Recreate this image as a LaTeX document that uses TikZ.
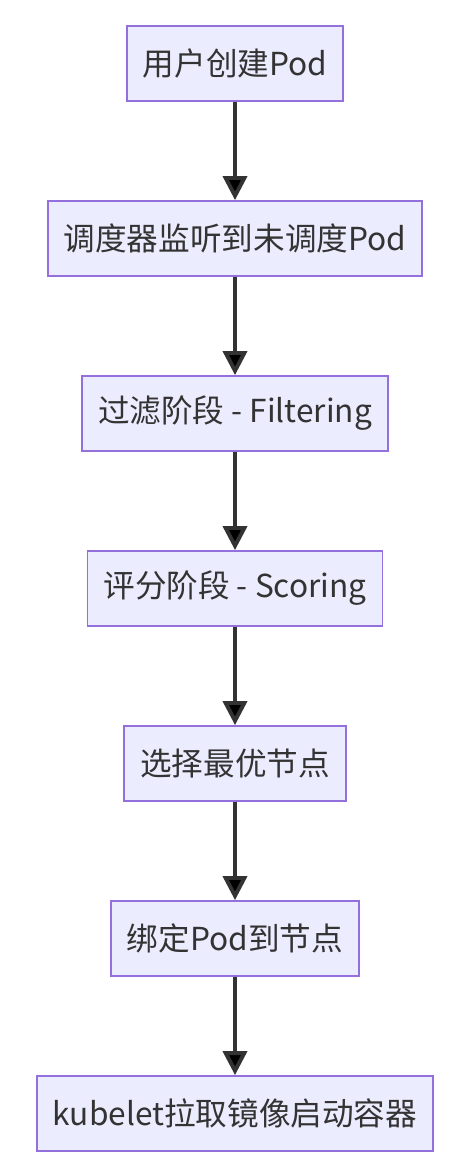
\documentclass[tikz,border=0pt]{standalone}
\usepackage{fontspec}
\setmainfont{Noto Sans CJK SC}
\usetikzlibrary{arrows.meta}
\definecolor{boxfill}{HTML}{ECECFF}
\definecolor{boxline}{HTML}{9370DB}
\definecolor{arrowc}{HTML}{333333}
\tikzset{
    >={Triangle[length=4.8mm, width=4.8mm]},
    stage/.style={rectangle, draw=boxline, fill=boxfill, line width=1pt, align=center,
        minimum height=1.5cm, inner xsep=0.32cm, text=arrowc, font=\fontsize{18pt}{21pt}\selectfont},
    flowline/.style={->, draw=arrowc, line width=2.2pt}
}
\begin{document}
\begin{tikzpicture}
    \useasboundingbox (0,0) rectangle (9.24,-23.44);

    \node[stage] (create) at (4.7,-1.27) {用户创建Pod};
    \node[stage] (watch) at (4.7,-4.77) {调度器监听到未调度Pod};
    \node[stage] (filter) at (4.7,-8.27) {过滤阶段 - Filtering};
    \node[stage] (score) at (4.7,-11.77) {评分阶段 - Scoring};
    \node[stage] (select) at (4.7,-15.27) {选择最优节点};
    \node[stage] (bind) at (4.7,-18.77) {绑定Pod到节点};
    \node[stage] (kubelet) at (4.7,-22.27) {kubelet拉取镜像启动容器};

    \path[flowline] (create) edge (watch)
          (watch) edge (filter)
          (filter) edge (score)
          (score) edge (select)
          (select) edge (bind)
          (bind) edge (kubelet);
\end{tikzpicture}
\end{document}
